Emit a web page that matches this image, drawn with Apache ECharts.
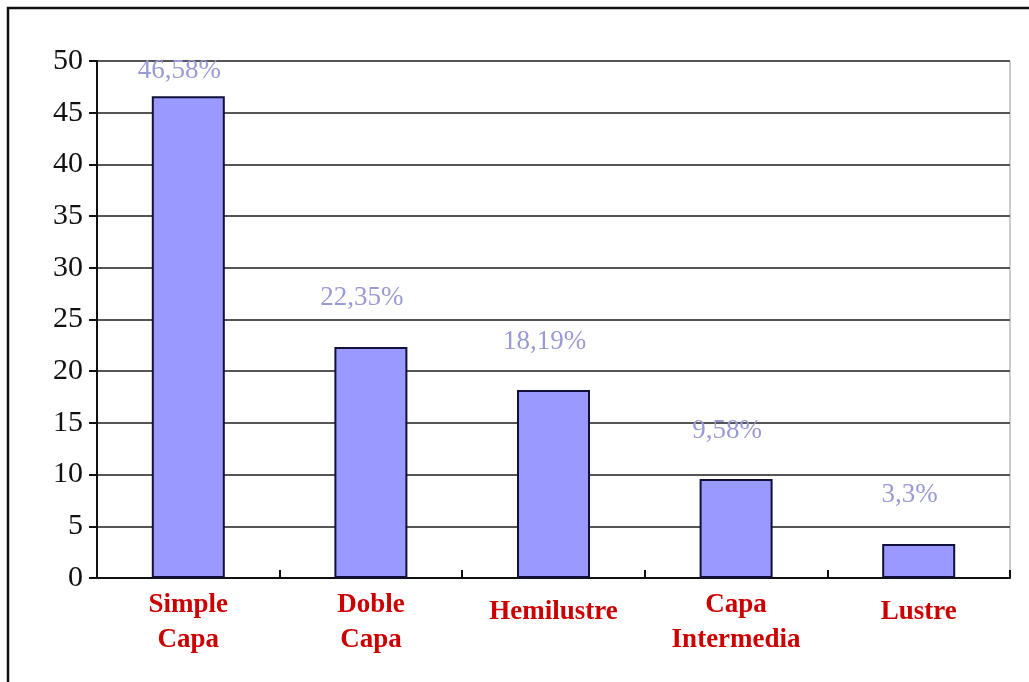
<!DOCTYPE html>
<html>
<head>
<meta charset="utf-8">
<script src="https://cdn.jsdelivr.net/npm/echarts@6/dist/echarts.min.js"></script>
<style>
html,body{margin:0;padding:0;background:#fff;}
#chart{width:1029px;height:682px;}
</style>
</head>
<body>
<div id="chart"></div>
<script>
var categories = ['Simple\nCapa', 'Doble\nCapa', 'Hemilustre', 'Capa\nIntermedia', 'Lustre'];
var values = [46.58, 22.35, 18.19, 9.58, 3.3];
var yTicks = [0, 5, 10, 15, 20, 25, 30, 35, 40, 45, 50];

var chart = echarts.init(document.getElementById('chart'));
var serif = '"Liberation Serif","Times New Roman",serif';

var data = values.map(function (v, i) {
  var d = { value: v };
  if (i === 0) d.label = { distance: 12 };
  return d;
});

var catData = categories.map(function (c) {
  var item = { value: c };
  if (c.indexOf('\n') < 0) item.textStyle = { padding: [7, 0, 0, 0] };
  return item;
});

chart.setOption({
  backgroundColor: '#fff',
  animation: false,
  graphic: [{
    type: 'rect',
    shape: { x: 8, y: 8, width: 1040, height: 700 },
    style: { fill: 'none', stroke: '#111', lineWidth: 2.5 },
    silent: true
  }],
  grid: {
    left: 97, right: 19, top: 61, bottom: 104,
    show: true, borderColor: '#999', borderWidth: 1, backgroundColor: 'transparent'
  },
  xAxis: {
    type: 'category',
    data: catData,
    axisLine: { lineStyle: { color: '#111', width: 2 } },
    axisTick: { show: true, inside: true, length: 8, lineStyle: { color: '#111', width: 2 } },
    axisLabel: {
      color: '#cc0000', fontFamily: serif, fontWeight: 'bold', fontSize: 27,
      lineHeight: 35, margin: 10
    }
  },
  yAxis: {
    type: 'value',
    min: 0, max: 50, interval: 5,
    axisLine: { show: true, lineStyle: { color: '#111', width: 2 } },
    axisTick: { show: true, length: 8, lineStyle: { color: '#111', width: 2 } },
    axisLabel: {
      color: '#111', fontFamily: serif, fontSize: 30, margin: 14,
      formatter: function (v) { return yTicks.indexOf(v) >= 0 ? String(v) : ''; }
    },
    splitLine: { lineStyle: { color: '#555', width: 2 } }
  },
  series: [{
    type: 'bar',
    data: data,
    barWidth: 73,
    itemStyle: { color: '#9999ff', borderColor: '#10103a', borderWidth: 2 },
    label: {
      show: true, position: 'top', distance: 35, offset: [-9, 0],
      color: '#9a9ad6', fontFamily: serif, fontSize: 27,
      formatter: function (p) { return String(p.value).replace('.', ',') + '%'; }
    }
  }]
});
</script>
</body>
</html>
